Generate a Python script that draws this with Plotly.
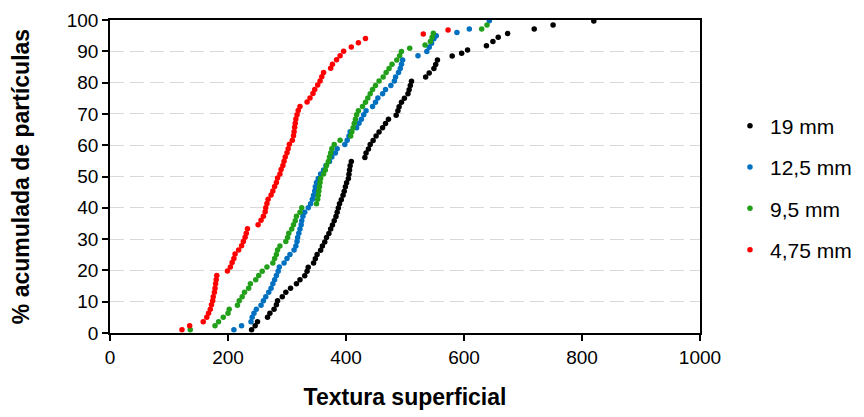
import plotly.graph_objects as go

# ---- data ----
series_names = ["19 mm", "12,5 mm", "9,5 mm", "4,75 mm"]
series_colors = ["#000000", "#0070C0", "#22A01A", "#FF0000"]

x_19 = [240, 246, 250, 267, 271, 278, 282, 284, 292, 298, 306, 316, 322, 330, 334, 336, 345, 348, 351, 357,
        360, 364, 367, 371, 374, 377, 380, 383, 385, 387, 389, 392, 395, 397, 399, 401, 404, 405, 406, 407,
        409, 432, 434, 438, 441, 446, 451, 456, 462, 467, 472, 485, 488, 490, 494, 499, 505, 507, 509, 511,
        535, 541, 549, 552, 555, 580, 596, 606, 638, 649, 658, 674, 719, 751, 820]
y_19 = [1.0, 2.3, 3.6, 5.0, 6.3, 7.6, 9.0, 10.3, 11.6, 13.0, 14.3, 15.7, 17.0, 18.3, 19.7, 21.0, 22.4, 23.7, 25.1, 26.4,
        27.8, 29.1, 30.5, 31.8, 33.2, 34.5, 35.9, 37.2, 38.6, 39.9, 41.3, 42.6, 44.0, 45.3, 46.7, 48.0, 49.4, 50.7, 52.1, 53.4,
        54.8, 56.1, 57.5, 58.8, 60.2, 61.5, 62.9, 64.2, 65.6, 66.9, 68.3, 69.6, 71.0, 72.3, 73.7, 75.0, 76.4, 77.7, 79.1, 80.4,
        81.8, 83.1, 84.5, 85.8, 87.2, 88.5, 89.4, 90.4, 91.8, 93.1, 94.5, 95.7, 97.1, 98.4, 99.7]

x_125 = [210, 223, 239, 241, 244, 248, 256, 260, 264, 269, 273, 276, 279, 282, 285, 287, 295, 300, 305, 312,
         315, 317, 318, 320, 322, 324, 325, 327, 330, 336, 340, 343, 345, 347, 348, 350, 353, 357, 362, 366,
         372, 376, 382, 385, 398, 402, 405, 407, 418, 422, 426, 430, 434, 445, 450, 454, 462, 467, 476, 482,
         484, 489, 492, 494, 496, 522, 537, 541, 545, 549, 553, 588, 609, 643]
y_125 = [1.0, 2.3, 3.6, 5.0, 6.3, 7.6, 8.9, 10.3, 11.6, 13.0, 14.3, 15.7, 17.0, 18.4, 19.7, 21.1, 22.4, 23.8, 25.1, 26.5,
         27.8, 29.2, 30.5, 31.9, 33.2, 34.6, 35.9, 37.3, 38.6, 40.0, 41.3, 42.7, 44.0, 45.4, 46.7, 48.1, 49.4, 50.8, 52.1, 53.5,
         54.8, 56.2, 57.5, 58.9, 60.2, 61.6, 62.9, 64.3, 65.6, 67.0, 68.3, 69.7, 71.0, 72.4, 73.7, 75.1, 76.4, 77.8, 79.1, 80.5,
         81.8, 83.2, 84.5, 85.9, 87.2, 88.6, 89.9, 91.3, 92.6, 94.0, 95.0, 96.0, 97.1, 99.8]

x_95 = [136, 178, 184, 192, 200, 202, 216, 219, 224, 228, 235, 238, 247, 252, 258, 266, 276, 279, 282, 284,
        288, 298, 301, 303, 308, 311, 314, 316, 322, 325, 350, 352, 353, 354, 355, 356, 357, 362, 365, 367,
        370, 372, 374, 376, 380, 390, 408, 410, 412, 414, 416, 418, 421, 428, 433, 437, 441, 445, 450, 456,
        463, 468, 473, 478, 486, 491, 494, 508, 534, 543, 546, 548, 630, 639]
y_95 = [1.0, 2.3, 3.6, 5.0, 6.3, 7.6, 8.9, 10.3, 11.6, 13.0, 14.3, 15.7, 17.0, 18.4, 19.7, 21.1, 22.4, 23.8, 25.1, 26.5,
        27.8, 29.2, 30.5, 31.9, 33.2, 34.6, 35.9, 37.3, 38.6, 40.0, 41.3, 42.7, 44.0, 45.4, 46.7, 48.1, 49.4, 50.8, 52.1, 53.5,
        54.8, 56.2, 57.5, 58.9, 60.2, 61.6, 62.9, 64.3, 65.6, 67.0, 68.3, 69.7, 71.0, 72.4, 73.7, 75.1, 76.4, 77.8, 79.1, 80.5,
        81.8, 83.2, 84.5, 85.9, 87.2, 88.6, 89.9, 91.0, 92.0, 93.1, 94.5, 95.8, 97.1, 98.4]

x_475 = [122, 135, 158, 164, 167, 170, 172, 174, 175, 177, 178, 179, 180, 181, 199, 204, 207, 210, 212, 218,
         223, 226, 229, 231, 233, 251, 256, 260, 263, 264, 266, 268, 273, 276, 279, 282, 284, 288, 290, 293,
         295, 297, 300, 302, 304, 309, 311, 312, 313, 314, 315, 317, 319, 322, 334, 339, 344, 347, 352, 356,
         359, 362, 374, 377, 384, 390, 396, 409, 421, 433, 531, 573]
y_475 = [1.0, 2.3, 3.6, 5.0, 6.3, 7.6, 9.0, 10.3, 11.6, 13.0, 14.3, 15.7, 17.0, 18.4, 19.8, 21.1, 22.5, 23.8, 25.2, 26.5,
         27.9, 29.2, 30.6, 31.9, 33.3, 34.6, 36.0, 37.3, 38.7, 40.0, 41.4, 42.7, 44.1, 45.4, 46.8, 48.1, 49.5, 50.8, 52.2, 53.5,
         54.9, 56.2, 57.6, 58.9, 60.3, 61.6, 63.0, 64.3, 65.7, 67.0, 68.4, 69.7, 71.1, 72.4, 73.8, 75.1, 76.5, 77.8, 79.2, 80.5,
         81.9, 83.2, 84.6, 85.9, 87.3, 88.6, 90.0, 91.4, 92.7, 94.1, 95.5, 96.8]

x_title = "Textura superficial"
y_title = "% acumulada de partículas"
x_ticks = [0, 200, 400, 600, 800, 1000]
y_ticks = [0, 10, 20, 30, 40, 50, 60, 70, 80, 90, 100]

series_x = [x_19, x_125, x_95, x_475]
series_y = [y_19, y_125, y_95, y_475]

FONT = "Arial, Liberation Sans, sans-serif"

fig = go.Figure()
for name, color, xs, ys in zip(series_names, series_colors, series_x, series_y):
    fig.add_trace(go.Scatter(
        x=xs, y=ys, mode="markers", name=name, legendgroup=name,
        marker=dict(color=color, size=5.5, line=dict(width=0)),
        cliponaxis=False,
    ))

fig.update_layout(
    width=856, height=409,
    margin=dict(l=102, r=164, t=12, b=84, autoexpand=False),
    paper_bgcolor="white", plot_bgcolor="white",
    font=dict(family=FONT, size=19, color="#000000"),
    showlegend=True,
    legend=dict(
        x=1.0508, xanchor="left", y=0.463, yanchor="middle",
        font=dict(family=FONT, size=21, color="#000000"),
        tracegroupgap=11, itemwidth=30,
        bgcolor="rgba(0,0,0,0)",
    ),
)
fig.update_xaxes(
    range=[0, 1000], tickvals=x_ticks, ticktext=[str(v) for v in x_ticks],
    showline=True, linecolor="#000000", linewidth=1.6, mirror=True,
    ticks="outside", ticklen=6, tickcolor="#000000", tickwidth=1.5,
    showgrid=False, zeroline=False, automargin=False,
    title=dict(text="<b>" + x_title + "</b>", font=dict(family=FONT, size=23), standoff=22),
    tickfont=dict(family=FONT, size=19),
)
fig.update_yaxes(
    range=[0, 100], tickvals=y_ticks, ticktext=[str(v) for v in y_ticks],
    showline=True, linecolor="#000000", linewidth=1.6, mirror=True,
    ticks="outside", ticklen=6, tickcolor="#000000", tickwidth=1.5,
    showgrid=True, gridcolor="#D9D9D9", gridwidth=1.4, griddash="14px,6px",
    zeroline=False, automargin=False,
    title=dict(text="<b>" + y_title + "</b>", font=dict(family=FONT, size=23), standoff=36),
    tickfont=dict(family=FONT, size=19),
)

fig.write_html("out.html")
